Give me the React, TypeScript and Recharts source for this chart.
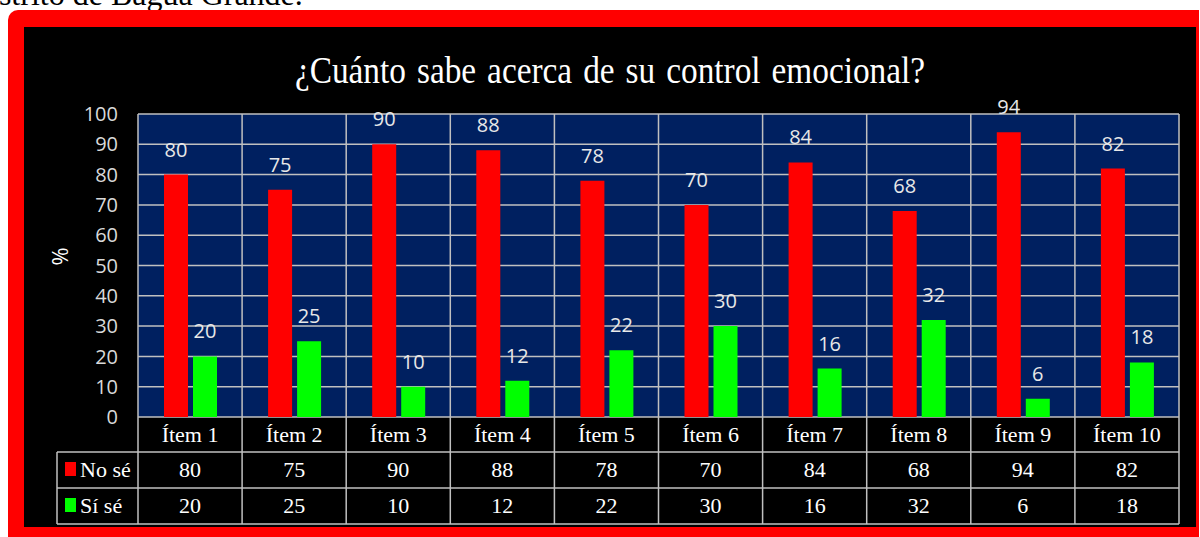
import React from 'react';
import { BarChart, Bar, XAxis, YAxis, CartesianGrid, LabelList, Label } from 'recharts';

const categories = ['Ítem 1', 'Ítem 2', 'Ítem 3', 'Ítem 4', 'Ítem 5', 'Ítem 6', 'Ítem 7', 'Ítem 8', 'Ítem 9', 'Ítem 10'];
const noSe = [80, 75, 90, 88, 78, 70, 84, 68, 94, 82];
const siSe = [20, 25, 10, 12, 22, 30, 16, 32, 6, 18];
const yTicks = [0, 10, 20, 30, 40, 50, 60, 70, 80, 90, 100];

const title = '¿Cuánto sabe acerca de su control emocional?';

const data = categories.map((name, i) => ({ name, 'No sé': noSe[i], 'Sí sé': siSe[i] }));

// chart geometry
const CHART_W = 1172;
const CHART_H = 500;
const MARGIN = { top: 87, right: 17, bottom: 0, left: 0 };
const Y_AXIS_W = 114;
const X_AXIS_H = 110;
const PLOT_W = CHART_W - MARGIN.left - MARGIN.right - Y_AXIS_W;
const PLOT_H = CHART_H - MARGIN.top - MARGIN.bottom - X_AXIS_H;
const BAND = PLOT_W / categories.length;
const ROWS = [0, 35, 71, 107]; // table row edges below the plot
const LEGEND_X = 33;

const GRID = '#c0c0c0';
const SERIF = '"Liberation Serif", "Times New Roman", serif';
const SANS = '"Open Sans", "Liberation Sans", sans-serif';

const TableTick = (props: any) => {
  const { x, y, payload } = props;
  const i = categories.indexOf(payload.value);
  const left = x - BAND / 2;
  const right = x + BAND / 2;
  const txt = { fill: '#ffffff', fontFamily: SERIF, fontSize: 22, textAnchor: 'middle' as const };
  return (
    <g>
      <line x1={left} y1={y - PLOT_H} x2={left} y2={y + ROWS[3]} stroke={GRID} strokeWidth={1.5} />
      {i === categories.length - 1 && (
        <line x1={right} y1={y - PLOT_H} x2={right} y2={y + ROWS[3]} stroke={GRID} strokeWidth={1.5} />
      )}
      {i === 0 && (
        <g>
          {ROWS.slice(1).map((r) => (
            <line key={r} x1={LEGEND_X} y1={y + r} x2={left + PLOT_W} y2={y + r} stroke={GRID} strokeWidth={1.5} />
          ))}
          <line x1={LEGEND_X} y1={y + ROWS[1]} x2={LEGEND_X} y2={y + ROWS[3]} stroke={GRID} strokeWidth={1.5} />
          <rect x={LEGEND_X + 8} y={y + ROWS[1] + 10} width={11} height={14} fill="#ff0000" />
          <text x={LEGEND_X + 23} y={y + ROWS[1] + 25} fill="#fff" fontFamily={SERIF} fontSize={22}>No sé</text>
          <rect x={LEGEND_X + 8} y={y + ROWS[2] + 10} width={11} height={14} fill="#00ff00" />
          <text x={LEGEND_X + 23} y={y + ROWS[2] + 25} fill="#fff" fontFamily={SERIF} fontSize={22}>Sí sé</text>
        </g>
      )}
      <text x={x} y={y + ROWS[0] + 25} {...txt}>{payload.value}</text>
      <text x={x} y={y + ROWS[1] + 25} {...txt}>{noSe[i]}</text>
      <text x={x} y={y + ROWS[2] + 25} {...txt}>{siSe[i]}</text>
    </g>
  );
};

export default function App() {
  return (
    <div style={{ position: 'fixed', left: 0, top: 0, width: 1200, height: 537, background: '#fff', overflow: 'hidden', fontFamily: SERIF }}>
      <div style={{ position: 'absolute', left: -26, top: -22, fontSize: 32, lineHeight: '32px', color: '#000', whiteSpace: 'nowrap' }}>
        distrito de Bagua Grande.
      </div>
      <div style={{ position: 'absolute', left: 8, top: 10, width: 1191, height: 540, background: '#ff0000', borderTopLeftRadius: 10 }} />
      <div style={{ position: 'absolute', left: 24, top: 27, width: CHART_W, height: CHART_H, background: '#000' }}>
        <div style={{ position: 'absolute', left: 0, top: 25, width: CHART_W, textAlign: 'center', color: '#fff', fontSize: 37, lineHeight: '37px', wordSpacing: 3, transform: 'scaleX(0.9)', whiteSpace: 'nowrap' }}>
          {title}
        </div>
        <BarChart width={CHART_W} height={CHART_H} data={data} margin={MARGIN} barSize={24} barGap={5}>
          <CartesianGrid vertical={false} stroke={GRID} strokeWidth={1.5} fill="#002060" fillOpacity={1} />
          <XAxis
            dataKey="name"
            height={X_AXIS_H}
            interval={0}
            tickSize={0}
            tickMargin={0}
            tickLine={false}
            axisLine={false}
            tick={<TableTick />}
          />
          <YAxis
            width={Y_AXIS_W}
            domain={[0, 100]}
            ticks={yTicks}
            interval={0}
            tickSize={0}
            tickMargin={20}
            tickLine={false}
            axisLine={false}
            tick={{ fill: '#d9d9d9', fontFamily: SANS, fontSize: 20 }}
          >
            <Label value="%" angle={-90} position="insideLeft" offset={36} fill="#ffffff" fontFamily={SANS} fontSize={22} />
          </YAxis>
          <Bar dataKey="No sé" fill="#ff0000" isAnimationActive={false}>
            <LabelList dataKey="No sé" position="top" offset={18} fill="#e8e8e8" fontFamily={SANS} fontSize={20} />
          </Bar>
          <Bar dataKey="Sí sé" fill="#00ff00" isAnimationActive={false}>
            <LabelList dataKey="Sí sé" position="top" offset={18} fill="#e8e8e8" fontFamily={SANS} fontSize={20} />
          </Bar>
        </BarChart>
      </div>
    </div>
  );
}
